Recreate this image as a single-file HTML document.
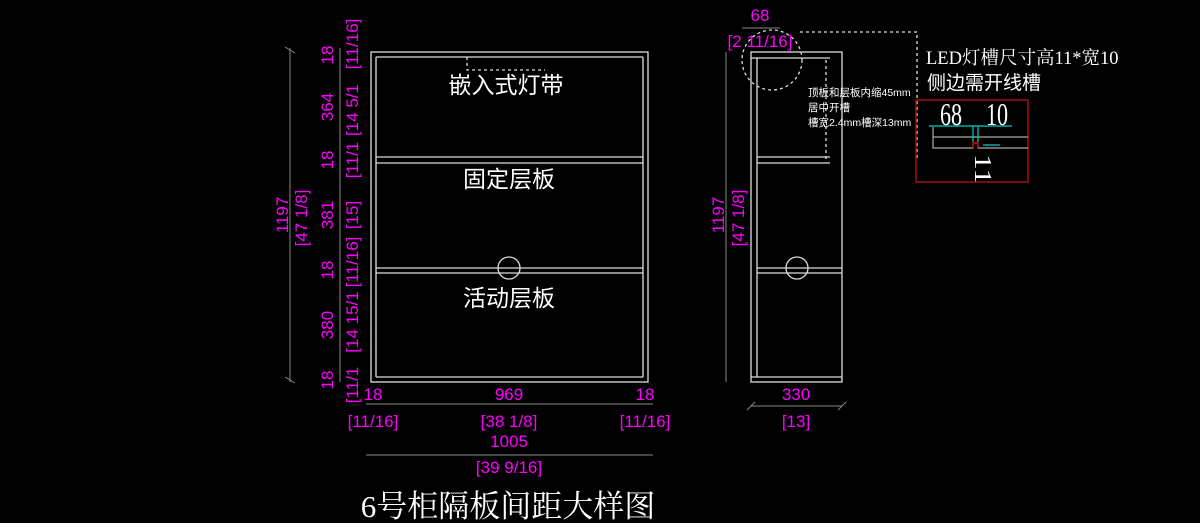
<!DOCTYPE html>
<html><head><meta charset="utf-8"><style>
html,body{margin:0;padding:0;background:#000;width:1200px;height:523px;overflow:hidden}
svg{display:block}
.m{fill:#ff00ff;font-family:"Liberation Sans","Noto Sans CJK SC",sans-serif;font-size:17px}
.w{fill:#fff;font-family:"Liberation Sans","Noto Sans CJK SC",sans-serif}
</style></head><body>
<svg width="1200" height="523" viewBox="0 0 1200 523" xmlns="http://www.w3.org/2000/svg">
<g stroke="#ddd" stroke-width="1.3" fill="none">
<rect x="371" y="52" width="277" height="330"/>
<line x1="376" y1="57" x2="376" y2="377"/>
<line x1="643" y1="57" x2="643" y2="377"/>
<line x1="376" y1="57" x2="643" y2="57"/>
<line x1="376" y1="157" x2="643" y2="157"/>
<line x1="376" y1="163" x2="643" y2="163"/>
<line x1="376" y1="268" x2="643" y2="268"/>
<line x1="376" y1="273" x2="643" y2="273"/>
<line x1="376" y1="377" x2="643" y2="377"/>
<circle cx="509" cy="268" r="11"/>
<path d="M467 57 V70 H545" stroke-dasharray="3,3"/>
<rect x="751" y="52" width="91" height="330"/>
<line x1="757" y1="58" x2="757" y2="377"/>
<line x1="751" y1="58" x2="830" y2="58"/>
<line x1="757" y1="157" x2="830" y2="157"/>
<line x1="757" y1="163" x2="830" y2="163"/>
<line x1="757" y1="268" x2="842" y2="268"/>
<line x1="757" y1="273" x2="842" y2="273"/>
<line x1="751" y1="377" x2="842" y2="377"/>
<circle cx="797" cy="268" r="11"/>
<g stroke-dasharray="3,3">
<circle cx="772" cy="60" r="30"/>
<path d="M800 32 H917 V160"/>
<line x1="826" y1="60" x2="826" y2="160"/>
</g>
</g>
<g stroke="#888" stroke-width="1">
<line x1="290" y1="48" x2="290" y2="382"/>
<line x1="285" y1="47" x2="295" y2="53"/><line x1="285" y1="377" x2="295" y2="383"/>
<line x1="340" y1="48" x2="340" y2="382"/>
<line x1="366" y1="404" x2="653" y2="404"/>
<line x1="366" y1="455" x2="653" y2="455"/>
<line x1="726" y1="52" x2="726" y2="382"/>
<line x1="751" y1="406" x2="842" y2="406"/>
<line x1="747" y1="410" x2="755" y2="402"/><line x1="838" y1="410" x2="846" y2="402"/>
<line x1="742" y1="28" x2="780" y2="28"/>
</g>
<g class="m">
<text transform="translate(288,215) rotate(-90)" text-anchor="middle">1197</text>
<text transform="translate(307,218) rotate(-90)" text-anchor="middle">[47 1/8]</text>
<text transform="translate(333,55) rotate(-90)" text-anchor="middle">18</text>
<text transform="translate(358,44) rotate(-90)" text-anchor="middle">[11/16]</text>
<text transform="translate(333,107) rotate(-90)" text-anchor="middle">364</text>
<text transform="translate(358,110) rotate(-90)" text-anchor="middle">[14 5/1</text>
<text transform="translate(333,160) rotate(-90)" text-anchor="middle">18</text>
<text transform="translate(358,160) rotate(-90)" text-anchor="middle">[11/1</text>
<text transform="translate(333,215) rotate(-90)" text-anchor="middle">381</text>
<text transform="translate(358,215) rotate(-90)" text-anchor="middle">[15]</text>
<text transform="translate(333,270) rotate(-90)" text-anchor="middle">18</text>
<text transform="translate(358,262) rotate(-90)" text-anchor="middle">[11/16]</text>
<text transform="translate(333,325) rotate(-90)" text-anchor="middle">380</text>
<text transform="translate(358,322) rotate(-90)" text-anchor="middle">[14 15/1</text>
<text transform="translate(333,380) rotate(-90)" text-anchor="middle">18</text>
<text transform="translate(358,385) rotate(-90)" text-anchor="middle">[11/1</text>
<text x="373" y="400" text-anchor="middle">18</text>
<text x="509" y="400" text-anchor="middle">969</text>
<text x="645" y="400" text-anchor="middle">18</text>
<text x="373" y="427" text-anchor="middle">[11/16]</text>
<text x="509" y="427" text-anchor="middle">[38 1/8]</text>
<text x="645" y="427" text-anchor="middle">[11/16]</text>
<text x="509" y="447" text-anchor="middle">1005</text>
<text x="509" y="473" text-anchor="middle">[39 9/16]</text>
<text transform="translate(724,215) rotate(-90)" text-anchor="middle">1197</text>
<text transform="translate(744,218) rotate(-90)" text-anchor="middle">[47 1/8]</text>
<text x="796" y="400" text-anchor="middle">330</text>
<text x="796" y="427" text-anchor="middle">[13]</text>
<text x="760" y="21" text-anchor="middle">68</text>
<text x="760" y="47" text-anchor="middle">[2 11/16]</text>
</g>
<g class="w">
<text x="506" y="93" font-size="23" text-anchor="middle">嵌入式灯带</text>
<text x="509" y="187" font-size="23" text-anchor="middle">固定层板</text>
<text x="509" y="306" font-size="23" text-anchor="middle">活动层板</text>
<text x="508" y="517" font-size="31" text-anchor="middle" style="font-family:'Liberation Serif','Noto Serif CJK SC',serif">6号柜隔板间距大样图</text>
<text x="808" y="96" font-size="10.5">顶板和层板内缩45mm</text>
<text x="808" y="111" font-size="10.5">居中开槽</text>
<text x="808" y="126" font-size="10.5">槽宽2.4mm槽深13mm</text>
<text x="926" y="64" font-size="18.5" style="font-family:'Liberation Serif','Noto Serif CJK SC',serif">LED灯槽尺寸高11*宽10</text>
<text x="927" y="89" font-size="19">侧边需开线槽</text>
<text transform="translate(940,125) scale(0.85,1.2)" font-size="26" style="font-family:'Liberation Serif',serif">68</text>
<text transform="translate(986,125) scale(0.85,1.2)" font-size="26" style="font-family:'Liberation Serif',serif">10</text>
<text transform="translate(975,154) rotate(90) scale(1.3,1)" font-size="24" style="font-family:'Liberation Serif',serif">11</text>
</g>
<rect x="916" y="100" width="112" height="82" fill="none" stroke="#a01010" stroke-width="1.5"/>
<g stroke="#aaa" stroke-width="1.2" fill="none">
<line x1="933" y1="137" x2="1028" y2="137"/>
<path d="M933 127 V148 H973 V143 H978 V148 H1028"/>
</g>
<path d="M973 148 V143 H978 V148" stroke="#d00" fill="none" stroke-width="1.3"/>
<g stroke="#0cc" stroke-width="1.2">
<line x1="929" y1="126" x2="1012" y2="126"/>
<line x1="973" y1="126" x2="973" y2="142"/>
<line x1="978" y1="126" x2="978" y2="142"/>
<line x1="983" y1="145" x2="1000" y2="145"/>
</g>
</svg>
</body></html>
